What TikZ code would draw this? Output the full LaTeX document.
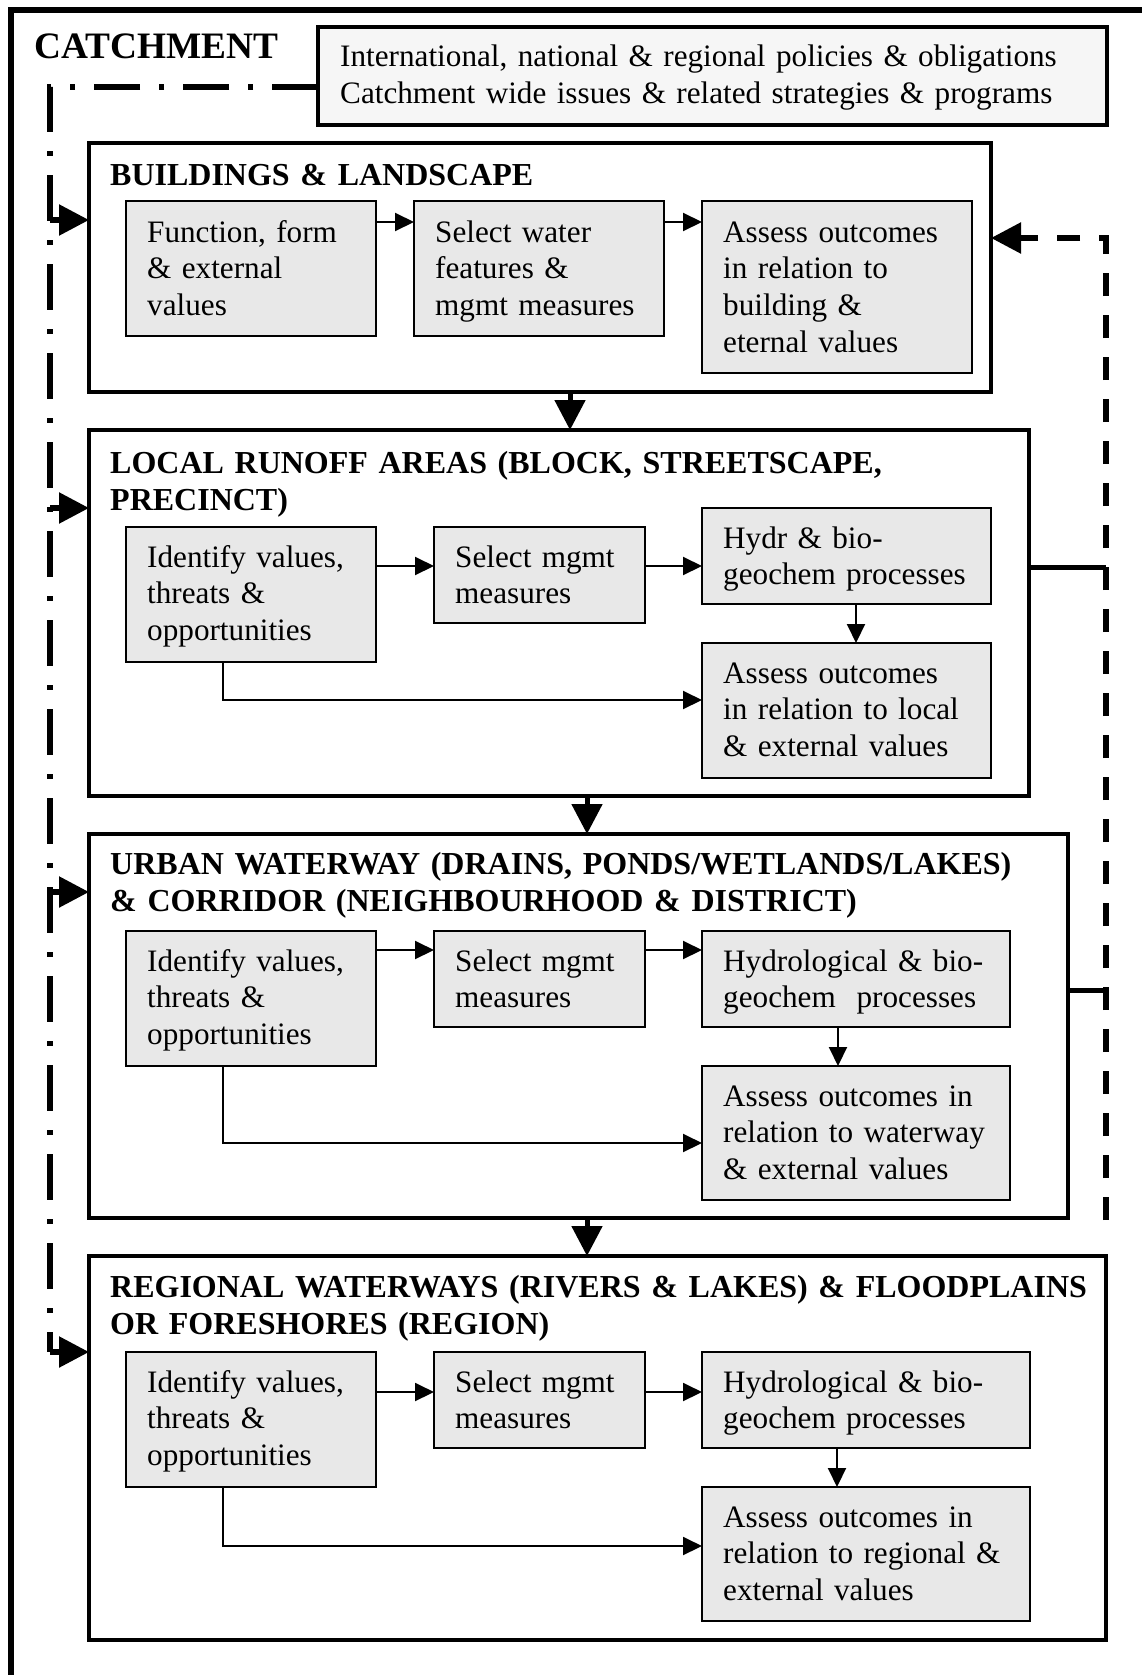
\documentclass[tikz,border=0pt]{standalone}
\usepackage{fontspec}
\setmainfont{Liberation Serif}
\usetikzlibrary{arrows.meta,calc}
\definecolor{boxgray}{HTML}{E8E8E8}
\definecolor{notegray}{HTML}{F6F6F6}
\begin{document}
\begin{tikzpicture}[x=1pt,y=-1pt,
  bodyfont/.style={font=\fontsize{31.2pt}{36.8pt}\selectfont},
  zone/.style={draw, line width=4pt, anchor=north west, inner sep=0pt, outer sep=0pt},
  stepbox/.style={draw, fill=boxgray, line width=2pt, anchor=north west, inner sep=0pt, outer sep=0pt},
  txt/.style={bodyfont, anchor=base west, inner sep=0pt, text width=440pt, align=left},
  ttl/.style={font=\fontsize{32pt}{37pt}\selectfont\bfseries, anchor=base west, inner sep=0pt, text width=1000pt, align=left},
  flow/.style={line width=2pt, -{Triangle[length=19pt,width=18pt]}},
  bigflow/.style={line width=5pt, -{Triangle[length=30pt,width=30pt]}},
  feed/.style={line width=5.5pt, dash pattern=on 46pt off 19pt on 5pt off 19pt},
  feedback/.style={line width=5.5pt, dash pattern=on 23pt off 19pt},
]
\fill[white] (0,0) rectangle (1141,1675);
\useasboundingbox (0,0) rectangle (1141,1675);

% catchment frame, running off the right and bottom edges
\draw[line width=6pt] (11,1720) -- (11,10) -- (1180,10);
\node[font=\fontsize{37.3pt}{40pt}\selectfont\bfseries, anchor=base west, inner sep=0pt] (catch) at (34,59) {CATCHMENT};

% policy box
\node[zone, fill=notegray, line width=4.5pt, minimum width=789pt, minimum height=98pt] (pol) at (318,27) {};
\node[txt, text width=760pt] (poltxt) at ($(pol.north west)+(22,40)$)
  {International, national \& regional policies \& obligations\\Catchment wide issues \& related strategies \& programs};

% the four scale zones
\node[zone, minimum width=902pt,  minimum height=249pt] (bld) at (89,143) {};
\node[zone, minimum width=940pt,  minimum height=366pt] (loc) at (89,430) {};
\node[zone, minimum width=979pt,  minimum height=384pt] (urb) at (89,834) {};
\node[zone, minimum width=1017pt, minimum height=384pt] (reg) at (89,1256) {};

\node[ttl] (bldt) at ($(bld.north west)+(21,42)$) {BUILDINGS \& LANDSCAPE};
\node[ttl] (loct) at ($(loc.north west)+(21,43)$) {LOCAL RUNOFF AREAS (BLOCK, STREETSCAPE,\\PRECINCT)};
\node[ttl] (urbt) at ($(urb.north west)+(21,40)$) {URBAN WATERWAY (DRAINS, PONDS/WETLANDS/LAKES)\\\& CORRIDOR (NEIGHBOURHOOD \& DISTRICT)};
\node[ttl] (regt) at ($(reg.north west)+(21,41)$) {REGIONAL WATERWAYS (RIVERS \& LAKES) \& FLOODPLAINS\\OR FORESHORES (REGION)};

% buildings & landscape steps
\node[stepbox, minimum width=250pt, minimum height=135pt] (b1) at (126,201) {};
\node[stepbox, minimum width=250pt, minimum height=135pt] (b2) at (414,201) {};
\node[stepbox, minimum width=270pt, minimum height=172pt] (b3) at (702,201) {};
\node[txt] at ($(b1.north west)+(21,41)$) {Function, form\\\& external\\values};
\node[txt] at ($(b2.north west)+(21,41)$) {Select water\\features \&\\mgmt measures};
\node[txt] at ($(b3.north west)+(21,41)$) {Assess outcomes\\in relation to\\building \&\\eternal values};

% local runoff steps
\node[stepbox, minimum width=250pt, minimum height=135pt] (l1) at (126,527) {};
\node[stepbox, minimum width=211pt, minimum height=96pt]  (l2) at (434,527) {};
\node[stepbox, minimum width=289pt, minimum height=96pt]  (l3) at (702,508) {};
\node[stepbox, minimum width=289pt, minimum height=135pt] (l4) at (702,643) {};
\node[txt] at ($(l1.north west)+(21,40)$) {Identify values,\\threats \&\\opportunities};
\node[txt] at ($(l2.north west)+(21,40)$) {Select mgmt\\measures};
\node[txt] at ($(l3.north west)+(21,40)$) {Hydr \& bio-\\geochem processes};
\node[txt] at ($(l4.north west)+(21,40)$) {Assess outcomes\\in relation to local\\\& external values};

% urban waterway steps
\node[stepbox, minimum width=250pt, minimum height=135pt] (u1) at (126,931) {};
\node[stepbox, minimum width=211pt, minimum height=96pt]  (u2) at (434,931) {};
\node[stepbox, minimum width=308pt, minimum height=96pt]  (u3) at (702,931) {};
\node[stepbox, minimum width=308pt, minimum height=134pt] (u4) at (702,1066) {};
\node[txt] at ($(u1.north west)+(21,40)$) {Identify values,\\threats \&\\opportunities};
\node[txt] at ($(u2.north west)+(21,40)$) {Select mgmt\\measures};
\node[txt] at ($(u3.north west)+(21,40)$) {Hydrological \& bio-\\geochem\ \ processes};
\node[txt] at ($(u4.north west)+(21,40)$) {Assess outcomes in\\relation to waterway\\\& external values};

% regional waterway steps
\node[stepbox, minimum width=250pt, minimum height=135pt] (r1) at (126,1352) {};
\node[stepbox, minimum width=211pt, minimum height=96pt]  (r2) at (434,1352) {};
\node[stepbox, minimum width=328pt, minimum height=96pt]  (r3) at (702,1352) {};
\node[stepbox, minimum width=328pt, minimum height=134pt] (r4) at (702,1487) {};
\node[txt] at ($(r1.north west)+(21,40)$) {Identify values,\\threats \&\\opportunities};
\node[txt] at ($(r2.north west)+(21,40)$) {Select mgmt\\measures};
\node[txt] at ($(r3.north west)+(21,40)$) {Hydrological \& bio-\\geochem processes};
\node[txt] at ($(r4.north west)+(21,40)$) {Assess outcomes in\\relation to regional \&\\external values};

% guide coordinates for the connectors
\coordinate (yb) at (0,222);
\coordinate (yl) at (0,566);
\coordinate (yu) at (0,950);
\coordinate (yr) at (0,1392);
\coordinate (xl) at (223,0);
\coordinate (ylb) at (0,700);
\coordinate (yub) at (0,1143);
\coordinate (yrb) at (0,1546);
\coordinate (xlv) at (856,0);
\coordinate (xuv) at (838,0);
\coordinate (xrv) at (837,0);

% flows inside each zone
\draw[flow] (b1.east |- yb) -- (b2.west |- yb);
\draw[flow] (b2.east |- yb) -- (b3.west |- yb);

\draw[flow] (l1.east |- yl) -- (l2.west |- yl);
\draw[flow] (l2.east |- yl) -- (l3.west |- yl);
\draw[flow] (l3.south -| xlv) -- (l4.north -| xlv);
\draw[flow] (l1.south -| xl) |- (l4.west |- ylb);

\draw[flow] (u1.east |- yu) -- (u2.west |- yu);
\draw[flow] (u2.east |- yu) -- (u3.west |- yu);
\draw[flow] (u3.south -| xuv) -- (u4.north -| xuv);
\draw[flow] (u1.south -| xl) |- (u4.west |- yub);

\draw[flow] (r1.east |- yr) -- (r2.west |- yr);
\draw[flow] (r2.east |- yr) -- (r3.west |- yr);
\draw[flow] (r3.south -| xrv) -- (r4.north -| xrv);
\draw[flow] (r1.south -| xl) |- (r4.west |- yrb);

% flows between zones
\coordinate (dn1) at (570,0);
\coordinate (dn2) at (587,0);
\draw[bigflow] (bld.south -| dn1) -- (loc.north -| dn1);
\draw[bigflow] (loc.south -| dn2) -- (urb.north -| dn2);
\draw[bigflow] (urb.south -| dn2) -- (reg.north -| dn2);

% catchment-wide influences feeding every zone
\coordinate (ddtop) at (50,87);
\coordinate (ddbot) at (50,1352);
\draw[feed] (pol.west |- ddtop) -- (ddtop) -- (ddbot);
\coordinate (ia) at (0,220);
\coordinate (ib) at (0,508);
\coordinate (ic) at (0,892);
\coordinate (id) at (0,1352);
\draw[bigflow, line width=5.5pt] (ddtop |- ia) -- (bld.west |- ia);
\draw[bigflow, line width=5.5pt] (ddtop |- ib) -- (loc.west |- ib);
\draw[bigflow, line width=5.5pt] (ddtop |- ic) -- (urb.west |- ic);
\draw[bigflow, line width=5.5pt] (ddtop |- id) -- (reg.west |- id);

% feedback to buildings & landscape
\coordinate (fbbot) at (1106,1220);
\coordinate (fbtop) at (1106,238);
\coordinate (tie1) at (0,567);
\coordinate (tie2) at (0,990);
\draw[feedback, -{Triangle[length=30pt,width=30pt]}] (fbbot) -- (fbtop) -- (bld.east |- fbtop);
\draw[line width=5pt] (loc.east |- tie1) -- (fbtop |- tie1);
\draw[line width=5pt] (urb.east |- tie2) -- (fbtop |- tie2);
\end{tikzpicture}
\end{document}
